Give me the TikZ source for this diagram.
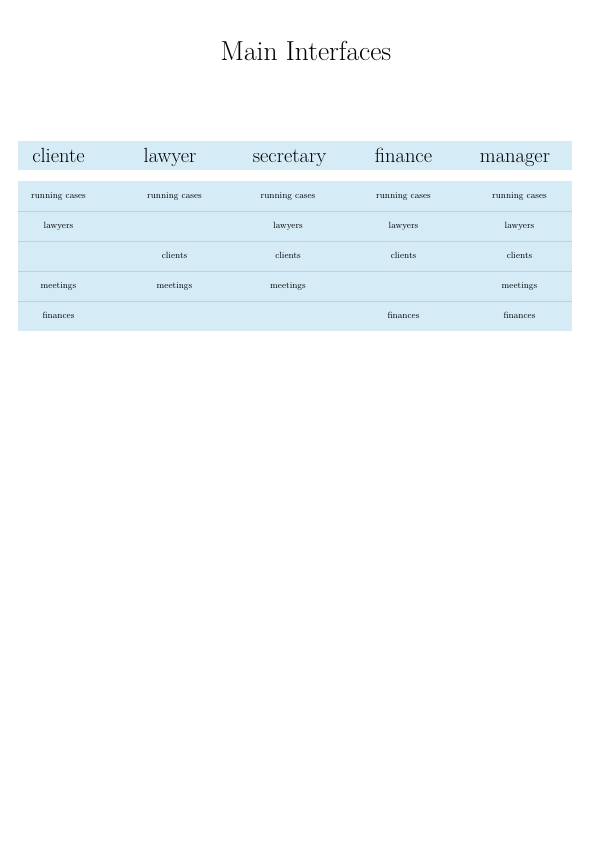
\documentclass[tikz,border=0pt]{standalone}
\usepackage{tikz}
\definecolor{bandblue}{HTML}{D5ECF7}
\definecolor{ruleblue}{HTML}{B3D5EA}
\tikzset{
    band/.style={fill=bandblue, draw=none},
    rowrule/.style={draw=ruleblue, line width=0.8pt},
    title/.style={font=\fontsize{27.5}{32}\selectfont, inner sep=0pt, anchor=base},
    head/.style={font=\fontsize{20.5}{24}\selectfont, inner sep=0pt, anchor=base},
    cell/.style={font=\fontsize{9}{11}\selectfont, inner sep=0pt, anchor=base}
}
\begin{document}
\begin{tikzpicture}[x=1pt, y=-1pt]
          \useasboundingbox (0,0) rectangle (596,843);
          \node [title] (title) at (306,60) {Main Interfaces};
          \begin{scope}
            \fill [band] (18,141) rectangle (572,170);
            \foreach \name/\x in {cliente/58.5, lawyer/170, secretary/289.5, finance/403.5, manager/515}
              \node [head] (h-\name) at (\x,162) {\name};
          \end{scope}
          \begin{scope}
            \fill [band] (18,181) rectangle (572,331);
            \foreach \y in {211,241,271,301}
              \draw [rowrule] (18,\y) -- (572,\y);
            \foreach \r/\c/\x/\y/\txt in {
                1/1/58.5/198.5/running cases, 1/2/174.5/198.5/running cases, 1/3/288/198.5/running cases,
                1/4/403.5/198.5/running cases, 1/5/519.5/198.5/running cases,
                2/1/58.5/228.5/lawyers, 2/3/288/228.5/lawyers, 2/4/403.5/228.5/lawyers, 2/5/519.5/228.5/lawyers,
                3/2/174.5/258.5/clients, 3/3/288/258.5/clients, 3/4/403.5/258.5/clients, 3/5/519.5/258.5/clients,
                4/1/58.5/288.5/meetings, 4/2/174.5/288.5/meetings, 4/3/288/288.5/meetings, 4/5/519.5/288.5/meetings,
                5/1/58.5/318.5/finances, 5/4/403.5/318.5/finances, 5/5/519.5/318.5/finances}
              \node [cell] (c-\r-\c) at (\x,\y) {\txt};
          \end{scope}
\end{tikzpicture}
\end{document}
